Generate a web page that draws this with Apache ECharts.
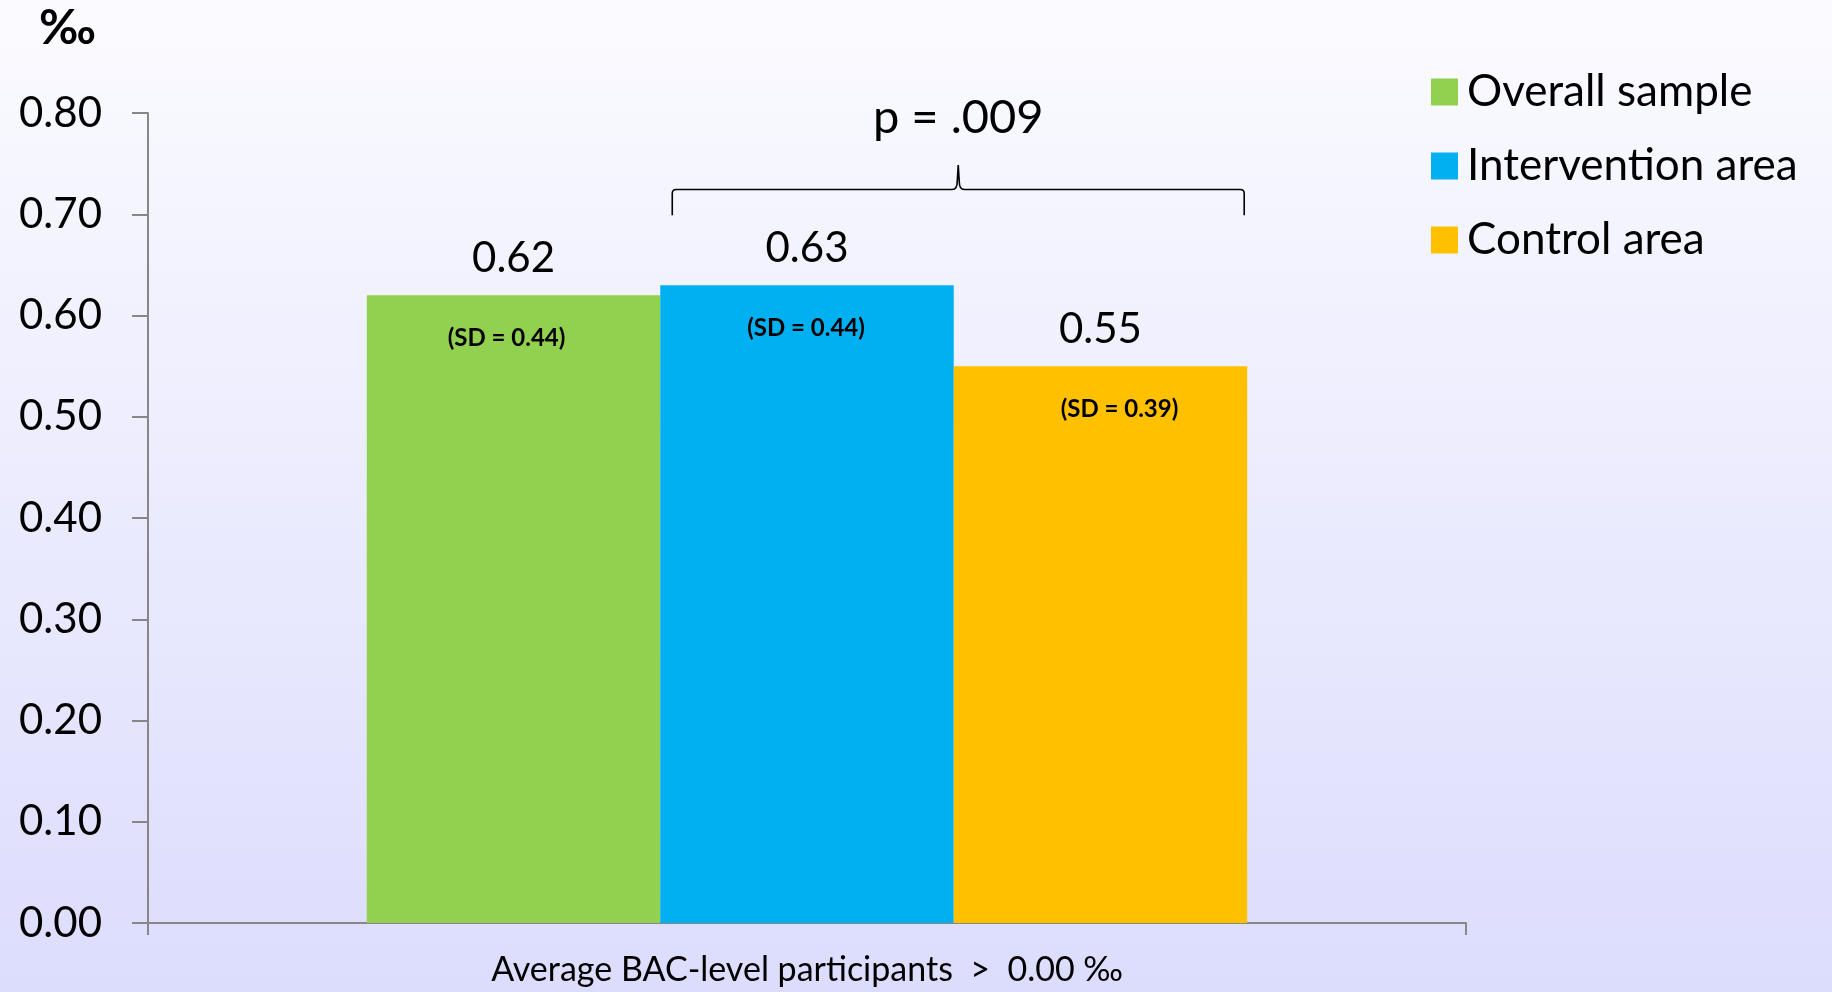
<!DOCTYPE html>
<html>
<head>
<meta charset="utf-8">
<title>Average BAC-level</title>
<script src="https://cdn.jsdelivr.net/npm/echarts@6/dist/echarts.min.js"></script>
<style>
  html, body { margin: 0; padding: 0; width: 100%; height: 100%; overflow: hidden; }
  #chart { width: 1832px; height: 992px; }
</style>
</head>
<body>
<div id="chart"></div>
<script>
// Mean BAC level (‰) among participants with BAC > 0.00 ‰
const categories = ['Average BAC-level participants  >  0.00 ‰'];
const seriesNames = ['Overall sample', 'Intervention area', 'Control area'];
const meanValues = [0.62, 0.63, 0.55];
const sdValues = [0.44, 0.44, 0.39];
const yTicks = { min: 0, max: 0.8, interval: 0.1 };
const pValueText = 'p = .009';

const colors = ['#92d050', '#00b0f0', '#ffc000'];
const sdLabelShift = [-7, -1, 19];   // horizontal nudge of each SD caption
const FONT = 'Lato, "Open Sans", sans-serif';
const GAP = '33.2%';

const chart = echarts.init(document.getElementById('chart'), null, { renderer: 'canvas' });

// visible bars with their mean value above
const meanSeries = seriesNames.map((name, i) => ({
  name,
  type: 'bar',
  xAxisIndex: 0,
  barGap: '0%',
  barCategoryGap: GAP,
  itemStyle: { color: colors[i] },
  data: [meanValues[i]],
  label: {
    show: true,
    position: 'top',
    distance: 12,
    fontFamily: FONT,
    fontSize: 42,
    lineHeight: 50,
    color: '#000',
    formatter: p => p.value.toFixed(2)
  },
  emphasis: { disabled: true },
  z: 2
}));

// transparent twins on a hidden axis carrying the SD text inside each bar
const sdSeries = seriesNames.map((name, i) => ({
  name: name + ' SD',
  type: 'bar',
  xAxisIndex: 1,
  barGap: '0%',
  barCategoryGap: GAP,
  itemStyle: { color: 'rgba(0,0,0,0)' },
  data: [meanValues[i]],
  label: {
    show: true,
    position: 'insideTop',
    distance: 29,
    offset: [sdLabelShift[i], 0],
    fontFamily: FONT,
    fontWeight: 'bold',
    fontSize: 24,
    lineHeight: 28,
    color: '#000',
    formatter: () => '(SD = ' + sdValues[i].toFixed(2) + ')'
  },
  emphasis: { disabled: true },
  silent: true,
  z: 3
}));

// significance bracket spanning the intervention and control bars
const bracketLevels = { end: 0.699, line: 0.7245, peak: 0.7486, text: 0.795 };
const bracketSeries = {
  name: 'significance',
  type: 'custom',
  xAxisIndex: 0,
  silent: true,
  z: 10,
  data: [[categories[0], bracketLevels.line]],
  encode: { x: 0, y: 1 },
  renderItem: (params, api) => {
    const band = api.size([1, 0])[0];
    const center = api.coord([api.value(0), bracketLevels.line])[0];
    const barWidth = band * (1 - parseFloat(GAP) / 100) / seriesNames.length;
    const x1 = center - barWidth / 2 + 12;
    const x2 = center + barWidth * 1.5 - 3;
    const xm = (x1 + x2) / 2;
    const yEnd = api.coord([api.value(0), bracketLevels.end])[1];
    const yLine = api.coord([api.value(0), bracketLevels.line])[1];
    const yPeak = api.coord([api.value(0), bracketLevels.peak])[1];
    const yText = api.coord([api.value(0), bracketLevels.text])[1];
    const r = 4;
    const path =
      'M' + x1 + ',' + yEnd +
      ' L' + x1 + ',' + (yLine + r) +
      ' Q' + x1 + ',' + yLine + ' ' + (x1 + r) + ',' + yLine +
      ' L' + (xm - 6) + ',' + yLine +
      ' Q' + (xm - 1) + ',' + yLine + ' ' + (xm - 1) + ',' + (yLine - 8) +
      ' L' + xm + ',' + yPeak +
      ' L' + (xm + 1) + ',' + (yLine - 8) +
      ' Q' + (xm + 1) + ',' + yLine + ' ' + (xm + 6) + ',' + yLine +
      ' L' + (x2 - r) + ',' + yLine +
      ' Q' + x2 + ',' + yLine + ' ' + x2 + ',' + (yLine + r) +
      ' L' + x2 + ',' + yEnd;
    return {
      type: 'group',
      children: [
        {
          type: 'path',
          shape: { pathData: path },
          style: { stroke: '#000', lineWidth: 1.6, fill: null }
        },
        {
          type: 'text',
          style: {
            x: xm,
            y: yText,
            text: pValueText,
            fontFamily: FONT,
            fontSize: 47,
            fill: '#000',
            align: 'center',
            verticalAlign: 'middle'
          }
        }
      ]
    };
  }
};

const axisGray = '#878787';

const option = {
  animation: false,
  backgroundColor: new echarts.graphic.LinearGradient(0, 0, 0, 1, [
    { offset: 0, color: '#fbfbff' },
    { offset: 1, color: '#dcdcfd' }
  ]),
  title: {
    text: '‰',
    left: 34,
    top: 0,
    textStyle: { fontFamily: FONT, fontWeight: 'bold', fontSize: 48, color: '#000' }
  },
  legend: {
    orient: 'vertical',
    left: 1426,
    top: 65,
    itemWidth: 27,
    itemHeight: 27,
    itemGap: 30,
    icon: 'rect',
    selectedMode: false,
    data: seriesNames,
    textStyle: { fontFamily: FONT, fontSize: 44, color: '#000', padding: [0, 0, 0, 4] }
  },
  grid: { left: 148, right: 366, top: 113, bottom: 69, containLabel: false },
  xAxis: [
    {
      type: 'category',
      data: categories,
      axisLine: { lineStyle: { color: axisGray, width: 2 } },
      axisTick: { show: true, length: 12, lineStyle: { color: axisGray, width: 2 } },
      axisLabel: { fontFamily: FONT, fontSize: 34, color: '#000', margin: 30 }
    },
    { type: 'category', data: categories, show: false }
  ],
  yAxis: {
    type: 'value',
    min: yTicks.min,
    max: yTicks.max,
    interval: yTicks.interval,
    splitLine: { show: false },
    axisLine: { show: true, lineStyle: { color: axisGray, width: 2 } },
    axisTick: { show: true, length: 16, lineStyle: { color: axisGray, width: 2 } },
    axisLabel: {
      fontFamily: FONT,
      fontSize: 42,
      color: '#000',
      margin: 46,
      formatter: v => v.toFixed(2)
    }
  },
  series: meanSeries.concat(sdSeries, [bracketSeries])
};

chart.setOption(option);
</script>
</body>
</html>
